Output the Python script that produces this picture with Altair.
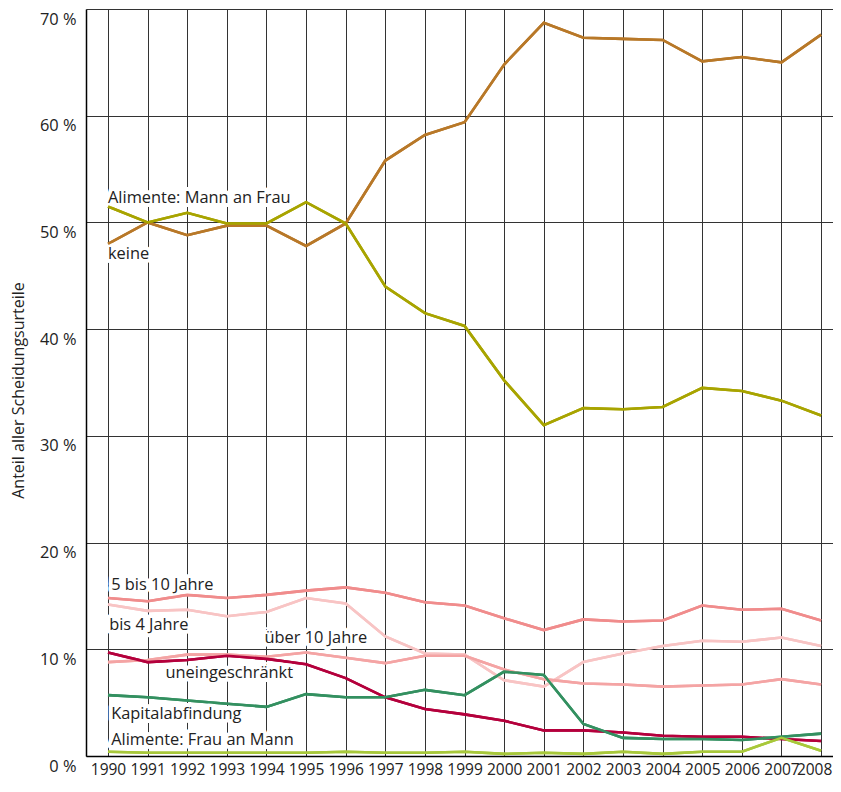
import altair as alt
import pandas as pd

years = list(range(1990, 2009))

series_names = [
    "keine",
    "Alimente: Mann an Frau",
    "5 bis 10 Jahre",
    "bis 4 Jahre",
    "über 10 Jahre",
    "uneingeschränkt",
    "Kapitalabfindung",
    "Alimente: Frau an Mann",
]

keine = [48.0, 50.0, 48.8, 49.7, 49.7, 47.8, 49.9, 55.8, 58.2, 59.4, 64.8, 68.7, 67.3, 67.2, 67.1, 65.1, 65.5, 65.0, 67.6]
mann_an_frau = [51.5, 50.0, 50.9, 49.9, 49.9, 51.9, 49.9, 44.0, 41.5, 40.3, 35.2, 31.0, 32.6, 32.5, 32.7, 34.5, 34.2, 33.3, 31.9]
bis10 = [14.8, 14.5, 15.1, 14.8, 15.1, 15.5, 15.8, 15.3, 14.4, 14.1, 12.9, 11.8, 12.8, 12.6, 12.7, 14.1, 13.7, 13.8, 12.7]
bis4 = [14.2, 13.6, 13.7, 13.1, 13.5, 14.8, 14.3, 11.2, 9.6, 9.5, 7.1, 6.5, 8.8, 9.6, 10.3, 10.8, 10.7, 11.1, 10.3]
ueber10 = [8.8, 9.0, 9.5, 9.5, 9.3, 9.7, 9.2, 8.7, 9.4, 9.4, 8.1, 7.2, 6.8, 6.7, 6.5, 6.6, 6.7, 7.2, 6.7]
uneingeschraenkt = [9.7, 8.8, 9.0, 9.4, 9.1, 8.6, 7.3, 5.5, 4.4, 3.9, 3.3, 2.4, 2.4, 2.2, 1.9, 1.8, 1.8, 1.6, 1.4]
kapital = [5.7, 5.5, 5.2, 4.9, 4.6, 5.8, 5.5, 5.5, 6.2, 5.7, 7.9, 7.6, 3.0, 1.7, 1.6, 1.6, 1.5, 1.8, 2.1]
frau_an_mann = [0.4, 0.3, 0.3, 0.3, 0.3, 0.3, 0.4, 0.3, 0.3, 0.4, 0.2, 0.3, 0.2, 0.4, 0.2, 0.4, 0.4, 1.7, 0.5]

series_values = [keine, mann_an_frau, bis10, bis4, ueber10, uneingeschraenkt, kapital, frau_an_mann]
series_colors = ["#b87828", "#a8a400", "#f08c8c", "#f8c4c4", "#f4a4a4", "#b4003c", "#339060", "#a8c83a"]

# annotation anchors (year, percent)
label_text = series_names
label_year = [1990.0, 1990.0, 1990.08, 1990.03, 1993.95, 1991.45, 1990.08, 1990.08]
label_value = [47.0, 52.3, 16.0, 12.3, 11.1, 7.75, 3.9, 1.5]

rows = []
for name, vals in zip(series_names, series_values):
    for y, v in zip(years, vals):
        rows.append({"Jahr": y, "Anteil": v, "Serie": name})
df = pd.DataFrame(rows)

lab = pd.DataFrame({"text": label_text, "Jahr": label_year, "Anteil": label_value})

FONT = "Open Sans"
LFS = 16.4
PLOT_W = 747
PLOT_H = 747

x_scale = alt.Scale(domain=[1989.445, 2008.3], nice=False, zero=False)
y_scale = alt.Scale(domain=[0, 70], nice=False)

x_axis = alt.Axis(
    values=years, format="d", title=None, ticks=False, labelPadding=6,
    labelFontSize=15.5, labelFont=FONT, labelColor="#222", labelFlush=False,
    labelOverlap=False,
    labelOffset={"condition": {"test": "datum.value == 2008", "value": -7}, "value": 0},
    grid=True, gridColor="#333", gridWidth=1, domainColor="#000", domainWidth=1.5,
)
y_axis = alt.Axis(
    values=[0, 10, 20, 30, 40, 50, 60, 70], labelExpr="datum.value + ' %'",
    title="Anteil aller Scheidungsurteile", titleFont=FONT, titleFontSize=16,
    titleFontWeight="normal", titleColor="#222", titleX=-68, titleY=381,
    titleBaseline="middle", titleAngle=270,
    ticks=False, labelPadding=10, labelFontSize=16.4, labelFont=FONT, labelColor="#222",
    labelBaseline="top", labelOffset=2, labelFlush=False, labelOverlap=False,
    grid=True, gridColor="#333", gridWidth=1, domainColor="#000", domainWidth=1.5,
)

base_x = alt.X("Jahr:Q", scale=x_scale, axis=x_axis)
base_y = alt.Y("Anteil:Q", scale=y_scale, axis=y_axis)

halo = alt.Chart(lab).mark_text(
    align="left", baseline="middle", font=FONT, fontSize=LFS,
    stroke="white", strokeWidth=8, strokeJoin="round", fill="white",
).encode(x=alt.X("Jahr:Q", scale=x_scale), y=alt.Y("Anteil:Q", scale=y_scale), text="text:N")

lines = alt.Chart(df).mark_line(strokeWidth=2.6).encode(
    x=base_x,
    y=base_y,
    color=alt.Color("Serie:N", scale=alt.Scale(domain=series_names, range=series_colors), legend=None),
    detail="Serie:N",
)

texts = alt.Chart(lab).mark_text(
    align="left", baseline="middle", font=FONT, fontSize=LFS, color="#222",
).encode(x=alt.X("Jahr:Q", scale=x_scale), y=alt.Y("Anteil:Q", scale=y_scale), text="text:N")

chart = alt.layer(lines, halo, lines, texts).properties(
    width=PLOT_W, height=PLOT_H,
    autosize=alt.AutoSizeParams(type="none"),
    padding={"left": 78, "top": 1, "right": 0, "bottom": 23},
).configure_view(stroke=None).configure(background="white")

chart.save("out.html", embed_options={"renderer": "svg", "actions": False})
